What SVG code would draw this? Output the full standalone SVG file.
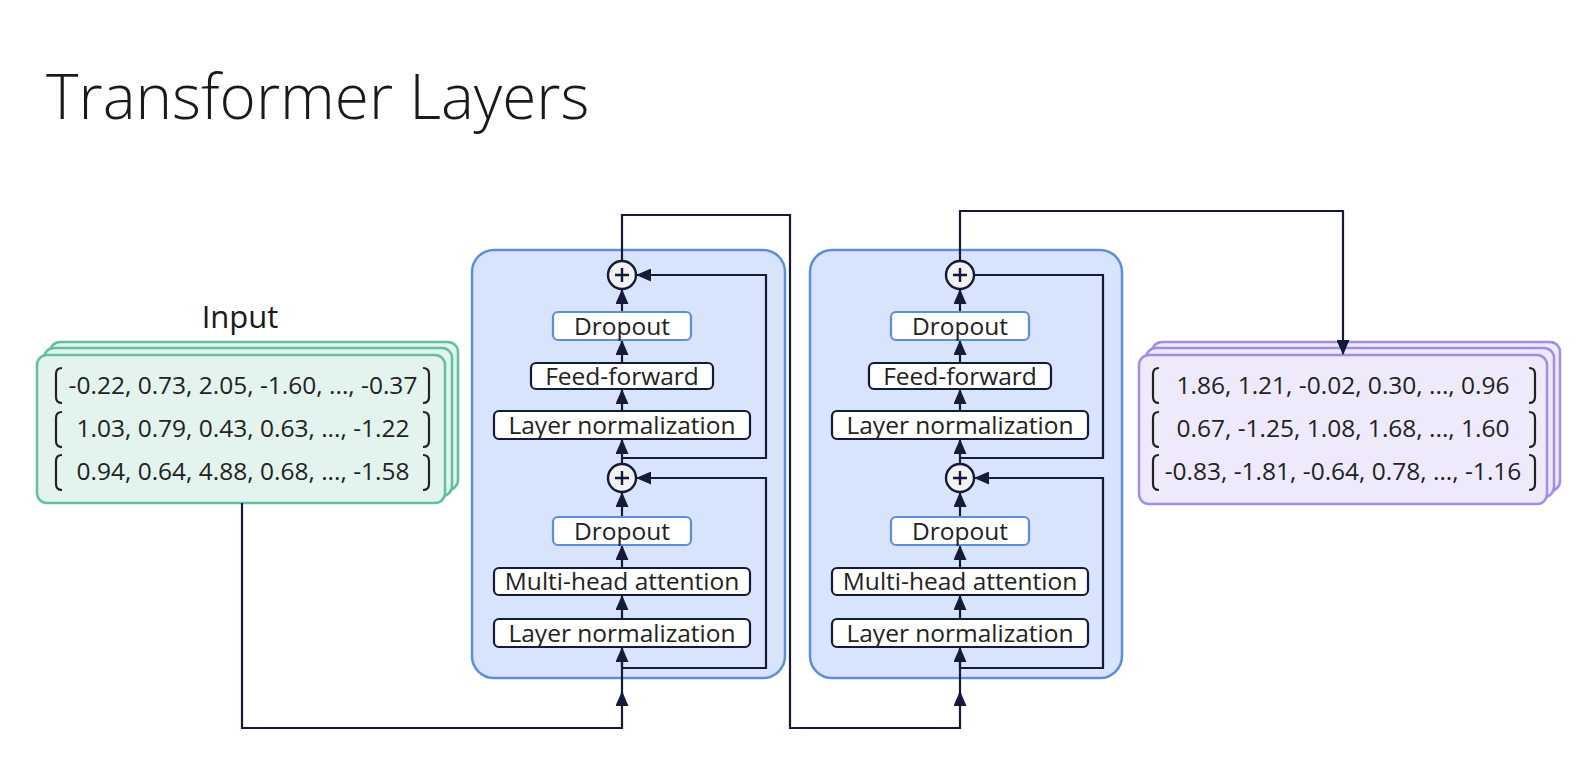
<svg xmlns="http://www.w3.org/2000/svg" width="1592" height="774" viewBox="0 0 1592 774">
<style>
.title{font-family:"Open Sans","Noto Sans",sans-serif;font-weight:300;font-size:62px;fill:#1a1a1a}
.lbl{font-family:"Open Sans","Noto Sans",sans-serif;font-size:31px;fill:#1a1a1a;text-anchor:middle}
.vec{font-family:"Open Sans","Noto Sans",sans-serif;font-size:24.5px;fill:#222;text-anchor:middle}
.nt{font-family:"Open Sans","Noto Sans",sans-serif;font-size:24.5px;fill:#222;text-anchor:middle}
.in{fill:#e3f4ef;stroke:#63bfa2;stroke-width:2.5}
.out{fill:#eeeafc;stroke:#a28ce6;stroke-width:2.5}
.blk{fill:#d8e3fc;stroke:#5b8de0;stroke-width:2.5}
.box{fill:#fff;stroke:#151a3a;stroke-width:2.2}
.drop{fill:#fff;stroke:#5b8de0;stroke-width:2.2}
.br{fill:none;stroke:#222;stroke-width:2.2}
.ln{fill:none;stroke:#151a3a;stroke-width:2.2}
.arr{fill:none;stroke:#151a3a;stroke-width:2.2;marker-end:url(#ah)}
.add{fill:#f2f2f2;stroke:#151a3a;stroke-width:2.4}
.plus{stroke:#151a3a;stroke-width:2.4}
</style>
<defs>
<marker id="ah" markerWidth="15" markerHeight="13" refX="14" refY="6.5" orient="auto" markerUnits="userSpaceOnUse">
<path d="M0,0 L15,6.5 L0,13 Z" fill="#151a3a"/>
</marker>
</defs>
<rect width="1592" height="774" fill="#fff"/>
<text class="title" x="46" y="119">Transformer Layers</text>

<g id="blocks">
<rect id="block1" class="blk" x="472" y="250" width="313" height="428" rx="22"/>
<rect id="block2" class="blk" x="810" y="250" width="312" height="428" rx="22"/>
</g>

<g id="input">
<text class="lbl" x="240" y="328">Input</text>
<rect class="in" x="50" y="342" width="408" height="148" rx="10"/>
<rect class="in" x="44" y="348" width="408" height="148" rx="10"/>
<rect class="in" x="37" y="355" width="408" height="148" rx="10"/>
<path class="br" d="M62,368 Q56,368 56,374 V397 Q56,403 62,403 M423,368 Q429,368 429,374 V397 Q429,403 423,403"/>
<path class="br" d="M62,412 Q56,412 56,418 V441 Q56,447 62,447 M423,412 Q429,412 429,418 V441 Q429,447 423,447"/>
<path class="br" d="M62,455 Q56,455 56,461 V484 Q56,490 62,490 M423,455 Q429,455 429,461 V484 Q429,490 423,490"/>
<text class="vec" x="243" y="394">-0.22, 0.73, 2.05, -1.60, ..., -0.37</text>
<text class="vec" x="243" y="437">1.03, 0.79, 0.43, 0.63, ..., -1.22</text>
<text class="vec" x="243" y="480">0.94, 0.64, 4.88, 0.68, ..., -1.58</text>
</g>

<g id="output">
<rect class="out" x="1152" y="342" width="408" height="149" rx="10"/>
<rect class="out" x="1146" y="348" width="408" height="149" rx="10"/>
<rect class="out" x="1139" y="355" width="408" height="149" rx="10"/>
<path class="br" d="M1159,368 Q1153,368 1153,374 V397 Q1153,403 1159,403 M1529,368 Q1535,368 1535,374 V397 Q1535,403 1529,403"/>
<path class="br" d="M1159,412 Q1153,412 1153,418 V441 Q1153,447 1159,447 M1529,412 Q1535,412 1535,418 V441 Q1535,447 1529,447"/>
<path class="br" d="M1159,455 Q1153,455 1153,461 V484 Q1153,490 1159,490 M1529,455 Q1535,455 1535,461 V484 Q1535,490 1529,490"/>
<text class="vec" x="1343" y="394">1.86, 1.21, -0.02, 0.30, ..., 0.96</text>
<text class="vec" x="1343" y="437">0.67, -1.25, 1.08, 1.68, ..., 1.60</text>
<text class="vec" x="1343" y="480">-0.83, -1.81, -0.64, 0.78, ..., -1.16</text>
</g>

<g id="connectors">
<path class="arr" d="M242,503 V728 H622 V692"/>
<path class="ln" d="M622,700 V660"/>
<path class="arr" d="M622,668 V648"/>
<path class="arr" d="M622,668 H766 V478 H637"/>
<path class="arr" d="M622,619 V596"/>
<path class="arr" d="M622,568 V546"/>
<path class="arr" d="M622,517 V493"/>
<path class="arr" d="M622,464 V440"/>
<path class="arr" d="M622,458 H766 V275 H637"/>
<path class="arr" d="M622,411 V390"/>
<path class="arr" d="M622,363 V341"/>
<path class="arr" d="M622,312 V290"/>
<path class="arr" d="M622,261 V215 H790 V728 H960 V692"/>
<path class="ln" d="M960,700 V660"/>
<path class="arr" d="M960,668 V648"/>
<path class="arr" d="M960,668 H1103 V478 H975"/>
<path class="arr" d="M960,619 V596"/>
<path class="arr" d="M960,568 V546"/>
<path class="arr" d="M960,517 V493"/>
<path class="arr" d="M960,464 V440"/>
<path class="ln" d="M960,458 H1103 V275 H974"/>
<path class="arr" d="M960,411 V390"/>
<path class="arr" d="M960,363 V341"/>
<path class="arr" d="M960,312 V290"/>
<path class="arr" d="M960,261 V211 H1343 V354"/>
</g>

<g id="b1-ln1"><rect class="box" x="494" y="619" width="256" height="28" rx="5"/><text class="nt" x="622" y="642">Layer normalization</text></g>
<g id="b1-mha"><rect class="box" x="494" y="568" width="256" height="27" rx="5"/><text class="nt" x="622" y="590">Multi-head attention</text></g>
<g id="b1-drop1"><rect class="drop" x="553" y="517" width="138" height="28" rx="5"/><text class="nt" x="622" y="540">Dropout</text></g>
<g id="b1-add1"><circle class="add" cx="622" cy="478" r="14"/><path class="plus" d="M615,478 H629 M622,471 V485"/></g>
<g id="b1-ln2"><rect class="box" x="494" y="411" width="256" height="28" rx="5"/><text class="nt" x="622" y="434">Layer normalization</text></g>
<g id="b1-ff"><rect class="box" x="531" y="363" width="182" height="26" rx="5"/><text class="nt" x="622" y="385">Feed-forward</text></g>
<g id="b1-drop2"><rect class="drop" x="553" y="312" width="138" height="28" rx="5"/><text class="nt" x="622" y="335">Dropout</text></g>
<g id="b1-add2"><circle class="add" cx="622" cy="275" r="14"/><path class="plus" d="M615,275 H629 M622,268 V282"/></g>

<g id="b2-ln1"><rect class="box" x="832" y="619" width="256" height="28" rx="5"/><text class="nt" x="960" y="642">Layer normalization</text></g>
<g id="b2-mha"><rect class="box" x="832" y="568" width="256" height="27" rx="5"/><text class="nt" x="960" y="590">Multi-head attention</text></g>
<g id="b2-drop1"><rect class="drop" x="891" y="517" width="138" height="28" rx="5"/><text class="nt" x="960" y="540">Dropout</text></g>
<g id="b2-add1"><circle class="add" cx="960" cy="478" r="14"/><path class="plus" d="M953,478 H967 M960,471 V485"/></g>
<g id="b2-ln2"><rect class="box" x="832" y="411" width="256" height="28" rx="5"/><text class="nt" x="960" y="434">Layer normalization</text></g>
<g id="b2-ff"><rect class="box" x="869" y="363" width="182" height="26" rx="5"/><text class="nt" x="960" y="385">Feed-forward</text></g>
<g id="b2-drop2"><rect class="drop" x="891" y="312" width="138" height="28" rx="5"/><text class="nt" x="960" y="335">Dropout</text></g>
<g id="b2-add2"><circle class="add" cx="960" cy="275" r="14"/><path class="plus" d="M953,275 H967 M960,268 V282"/></g>
</svg>
